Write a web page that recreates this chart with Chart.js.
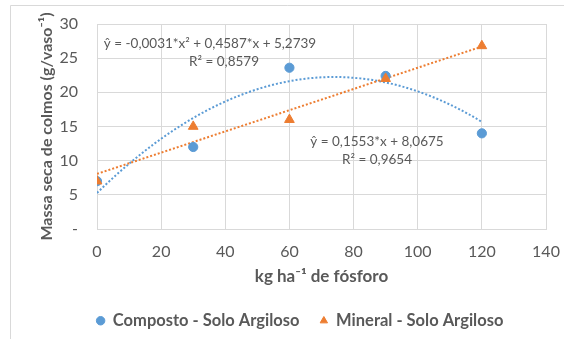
<!DOCTYPE html>
<html>
<head>
<meta charset="utf-8">
<script src="https://cdn.jsdelivr.net/npm/chart.js@4/dist/chart.umd.min.js"></script>
<style>
html,body{margin:0;padding:0;background:#fff;}
#wrap{width:564px;height:339px;position:relative;}
</style>
</head>
<body>
<div id="wrap"><canvas id="c" width="564" height="339"></canvas></div>
<script>
// ---- data ----
const doses = [0, 30, 60, 90, 120];
const composto = [7.0, 12.0, 23.6, 22.4, 14.0];
const mineral = [7.0, 15.0, 16.0, 22.0, 26.8];
// trendline coefficients shown in the chart (a*x^2 + b*x + c)
const quadCoef = [-0.0031, 0.4587, 5.2739];
const linCoef = [0.1553, 8.0675];
const xTicks = [0, 20, 40, 60, 80, 100, 120, 140];
const yTicks = [0, 5, 10, 15, 20, 25, 30];
const labels = ['Composto - Solo Argiloso', 'Mineral - Solo Argiloso'];
const eqComposto = ['ŷ = -0,0031*x² + 0,4587*x + 5,2739', 'R² = 0,8579'];
const eqMineral = ['ŷ = 0,1553*x + 8,0675', 'R² = 0,9654'];

const blue = '#5B9BD5', orange = '#ED7D31', txt = '#595959', grid = '#d9d9d9';
const FONT = 'Lato, "Open Sans", sans-serif';

const trendX = [];
for (let x = 0; x <= 120; x += 2) trendX.push(x);
const quadPts = trendX.map(x => ({x, y: quadCoef[0]*x*x + quadCoef[1]*x + quadCoef[2]}));
const linPts = [0, 120].map(x => ({x, y: linCoef[0]*x + linCoef[1]}));

const annot = {
  id: 'annot',
  beforeDraw(chart) {
    // legend is centred on the (wider, cropped) original chart
    if (chart.legend) { chart.legend.left = 18; chart.legend.right = 582; }
    const ctx = chart.ctx;
    ctx.save();
    ctx.strokeStyle = '#d9d9d9';
    ctx.lineWidth = 1;
    ctx.beginPath();
    ctx.moveTo(10.5, 339); ctx.lineTo(10.5, 5.5); ctx.lineTo(564, 5.5);
    ctx.stroke();
    ctx.restore();
  },
  afterDatasetsDraw(chart) {
    const ctx = chart.ctx;
    ctx.save();
    ctx.fillStyle = txt;
    ctx.font = '13.5px ' + FONT;
    ctx.textAlign = 'center';
    ctx.textBaseline = 'middle';
    ctx.fillText(eqComposto[0], 210, 44);
    ctx.fillText(eqComposto[1], 224, 62);
    ctx.fillText(eqMineral[0], 377, 142);
    ctx.fillText(eqMineral[1], 377, 160);
    ctx.restore();
  }
};

new Chart(document.getElementById('c'), {
  type: 'scatter',
  data: {
    datasets: [
      { label: labels[0], data: doses.map((x, i) => ({x, y: composto[i]})),
        backgroundColor: blue, borderColor: blue, pointStyle: 'circle', pointRadius: 4.6, order: 1 },
      { label: labels[1], data: doses.map((x, i) => ({x, y: mineral[i]})),
        backgroundColor: orange, borderColor: orange, pointStyle: 'triangle', pointRadius: 5.6, order: 0 },
      { label: 'trend1', type: 'line', data: quadPts, borderColor: blue, borderWidth: 2,
        borderDash: [2, 2], pointRadius: 0, fill: false, tension: 0, order: 3 },
      { label: 'trend2', type: 'line', data: linPts, borderColor: orange, borderWidth: 2,
        borderDash: [2, 2], pointRadius: 0, fill: false, tension: 0, order: 2 }
    ]
  },
  options: {
    responsive: false,
    animation: false,
    layout: { autoPadding: false, padding: { top: 24, right: 18, bottom: 0, left: 0 } },
    plugins: {
      legend: {
        position: 'bottom',
        labels: {
          filter: item => item.datasetIndex < 2,
          sort: (a, b) => a.datasetIndex - b.datasetIndex,
          generateLabels: chart => {
            const items = Chart.defaults.plugins.legend.labels.generateLabels(chart);
            items.forEach(it => { if (it.datasetIndex === 0) it.text = it.text + '\u2002\u2009'; });
            return items;
          },
          usePointStyle: true,
          boxWidth: 8, boxHeight: 6,
          color: txt,
          padding: 10,
          font: { family: FONT, size: 16.5, weight: 'bold' }
        }
      },
      tooltip: { enabled: false }
    },
    scales: {
      x: {
        type: 'linear', min: 0, max: 140,
        afterBuildTicks: s => { s.ticks = xTicks.map(v => ({value: v})); },
        afterFit: s => { s.height = 73.5; s.paddingLeft = 0; s.paddingRight = 0; },
        grid: { color: grid, drawTicks: false },
        border: { color: grid },
        ticks: { color: txt, padding: 13, font: { family: FONT, size: 16 } },
        title: { display: true, text: 'kg ha⁻¹ de fósforo', color: txt,
          padding: { top: 0, bottom: 16 }, font: { family: FONT, size: 17, weight: 'bold' } }
      },
      y: {
        type: 'linear', min: 0, max: 30,
        afterBuildTicks: s => { s.ticks = yTicks.map(v => ({value: v})); },
        afterFit: s => { s.width = 97; s.paddingTop = 0; s.paddingBottom = 0; },
        grid: { color: grid, drawTicks: false },
        border: { color: grid },
        ticks: { color: txt, padding: 19, font: { family: FONT, size: 16 },
          callback: v => v === 0 ? '-' : v },
        title: { display: true, text: 'Massa seca de colmos (g/vaso⁻¹)', color: txt,
          padding: { top: 37, bottom: 0 }, font: { family: FONT, size: 16, weight: 'bold' } }
      }
    }
  },
  plugins: [annot]
});
</script>
</body>
</html>
